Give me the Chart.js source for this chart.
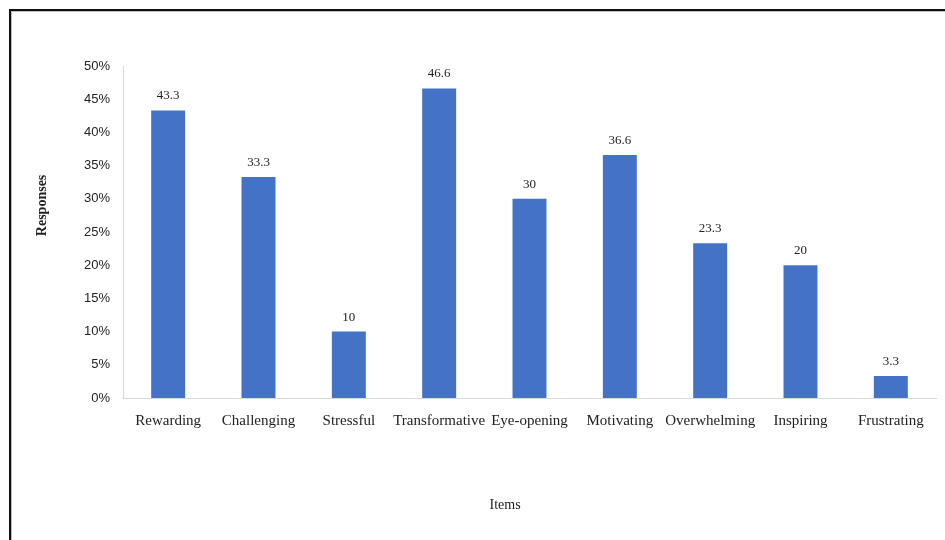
<!DOCTYPE html>
<html>
<head>
<meta charset="utf-8">
<script src="https://cdn.jsdelivr.net/npm/chart.js@4/dist/chart.umd.min.js"></script>
<style>
  html, body { margin: 0; padding: 0; background: #fff; }
  #wrap { position: relative; width: 945px; height: 540px; }
  #frame {
    position: absolute; left: 9px; top: 9px; right: -5px; bottom: -5px;
    border-top: 2px solid #111; border-left: 2px solid #111;
    box-shadow: inset 1px 1px 0 #bdbdbd;
    pointer-events: none;
  }
  canvas { position: absolute; left: 0; top: 0; }
</style>
</head>
<body>
<div id="wrap">
  <canvas id="chart" width="945" height="540"></canvas>
  <div id="frame"></div>
</div>
<script>
const categories = ['Rewarding', 'Challenging', 'Stressful', 'Transformative', 'Eye-opening', 'Motivating', 'Overwhelming', 'Inspiring', 'Frustrating'];
const responses = [43.3, 33.3, 10, 46.6, 30, 36.6, 23.3, 20, 3.3];
const yTicks = [0, 5, 10, 15, 20, 25, 30, 35, 40, 45, 50];
const xTitle = 'Items';
const yTitle = 'Responses';

const serif = '"Liberation Serif", "Times New Roman", serif';
const sans = '"Liberation Sans", Arial, sans-serif';

// Writes each bar's value just above it
const valueLabels = {
  id: 'valueLabels',
  afterDatasetsDraw(chart) {
    const ctx = chart.ctx;
    const meta = chart.getDatasetMeta(0);
    ctx.save();
    ctx.font = '13px ' + serif;
    ctx.fillStyle = '#222';
    ctx.textAlign = 'center';
    ctx.textBaseline = 'bottom';
    meta.data.forEach((bar, i) => {
      ctx.fillText(String(responses[i]), bar.x, bar.y - 8);
    });
    ctx.restore();
  }
};

// Axis titles, placed relative to the plot area
const axisTitles = {
  id: 'axisTitles',
  afterDraw(chart) {
    const ctx = chart.ctx;
    const area = chart.chartArea;
    ctx.save();
    ctx.fillStyle = '#222';
    ctx.textAlign = 'center';
    ctx.textBaseline = 'middle';
    ctx.font = '14px ' + serif;
    ctx.fillText(xTitle, area.left + (area.right - area.left) * 0.47, area.bottom + 107);
    ctx.translate(42, area.top + (area.bottom - area.top) * 0.42);
    ctx.rotate(-Math.PI / 2);
    ctx.font = 'bold 14px ' + serif;
    ctx.fillText(yTitle, 0, 0);
    ctx.restore();
  }
};

new Chart(document.getElementById('chart'), {
  type: 'bar',
  data: {
    labels: categories,
    datasets: [{
      data: responses,
      backgroundColor: '#4472C4',
      borderWidth: 0,
      categoryPercentage: 1,
      barPercentage: 0.376
    }]
  },
  options: {
    responsive: false,
    animation: false,
    layout: { padding: { top: 66, right: 9, bottom: 0, left: 0 } },
    plugins: {
      legend: { display: false },
      tooltip: { enabled: false }
    },
    scales: {
      x: {
        grid: { display: false, drawTicks: false },
        border: { display: true, color: '#d9d9d9', width: 1 },
        ticks: {
          color: '#222',
          font: { family: serif, size: 15 },
          padding: 14,
          maxRotation: 0,
          autoSkip: false
        },
        afterFit(scale) { scale.height = 142; }
      },
      y: {
        min: 0,
        max: 50,
        grid: { display: false, drawTicks: false },
        border: { display: true, color: '#d9d9d9', width: 1 },
        afterBuildTicks(scale) { scale.ticks = yTicks.map(v => ({ value: v })); },
        ticks: {
          color: '#222',
          font: { family: sans, size: 13 },
          padding: 13,
          callback: v => v + '%'
        },
        afterFit(scale) { scale.width = 123; }
      }
    }
  },
  plugins: [valueLabels, axisTitles]
});
</script>
</body>
</html>
